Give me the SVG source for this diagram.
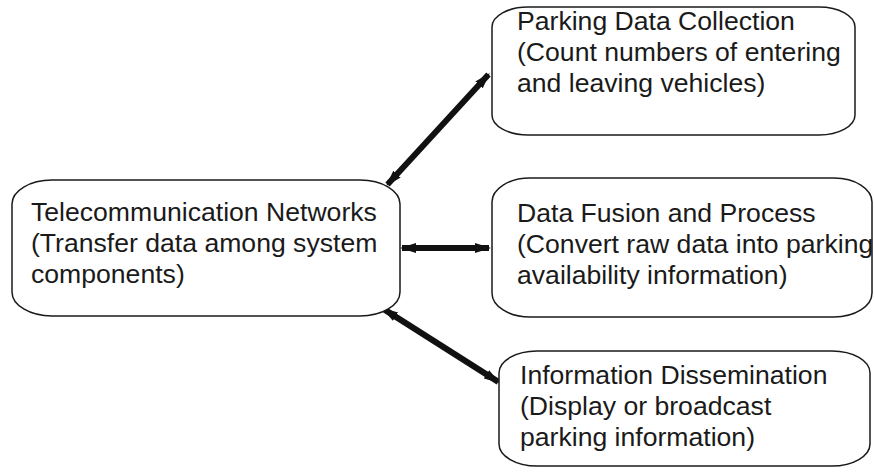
<svg xmlns="http://www.w3.org/2000/svg" width="874" height="473" viewBox="0 0 874 473">
<style>
.box{fill:#fff;stroke:#1a1a1a;stroke-width:1.5}
.t{font-family:"Liberation Sans",Arial,sans-serif;font-size:26.6px;fill:#1a1a1a}
.c{stroke:#111;stroke-width:6;fill:none;marker-start:url(#ah);marker-end:url(#ah)}
</style>
<defs>
<marker id="ah" markerUnits="userSpaceOnUse" markerWidth="16" markerHeight="12" viewBox="0 -6 16 12" refX="14" refY="0" orient="auto-start-reverse">
<path d="M0,-5 L16,0 L0,5 Z" fill="#111"/>
</marker>
</defs>
<rect width="874" height="473" fill="#fff"/>
<g id="connectors">
<line class="c" x1="387.5" y1="184.5" x2="488.5" y2="74.5"/>
<line class="c" x1="402" y1="248" x2="489" y2="248"/>
<line class="c" x1="383.7" y1="309.1" x2="498.3" y2="381.9"/>
</g>
<g id="telecom">
<rect class="box" x="12" y="180" width="388" height="136" rx="40" ry="24"/>
<text class="t" x="31" y="221">Telecommunication Networks</text>
<text class="t" x="31" y="252">(Transfer data among system</text>
<text class="t" x="31" y="283">components)</text>
</g>
<g id="collection">
<rect class="box" x="492" y="7" width="363" height="128" rx="36" ry="20"/>
<text class="t" x="517" y="30">Parking Data Collection</text>
<text class="t" x="517" y="61">(Count numbers of entering</text>
<text class="t" x="517" y="92">and leaving vehicles)</text>
</g>
<g id="fusion">
<rect class="box" x="492" y="178" width="380" height="139" rx="38" ry="24"/>
<text class="t" x="517" y="222">Data Fusion and Process</text>
<text class="t" x="517" y="253">(Convert raw data into parking</text>
<text class="t" x="517" y="284">availability information)</text>
</g>
<g id="dissemination">
<rect class="box" x="499" y="351" width="371" height="115" rx="38" ry="22"/>
<text class="t" x="520" y="384">Information Dissemination</text>
<text class="t" x="520" y="415">(Display or broadcast</text>
<text class="t" x="520" y="446">parking information)</text>
</g>
</svg>
